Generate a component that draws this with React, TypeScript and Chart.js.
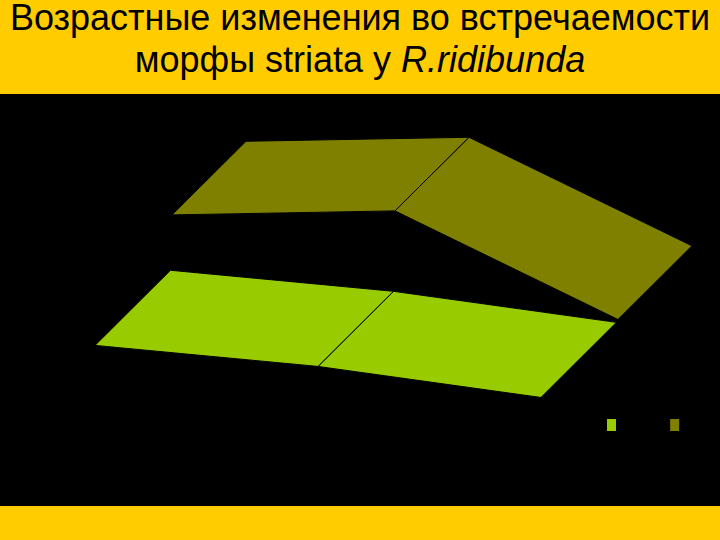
// @ts-nocheck
import { useEffect, useRef } from 'react';
import { Chart } from 'chart.js/auto';

// Age classes along the front edge of the floor
const ageSteps = [0, 1, 2];
// Frequency of the morph
const frontSeries = [18.75, 13.5, 5.75];
const backSeries = [32.2, 33.2, 6.1];

const FRONT_COLOR = '#99CC00';
const BACK_COLOR = '#808000';
const YELLOW = '#FFCC00';

// Oblique projection of the depth axis, in axis units per row
const DEPTH_X = 0.3386;
const DEPTH_Y = 18.75;

const project = (step, value, depth) => ({
	x: step + depth * DEPTH_X,
	y: value + depth * DEPTH_Y,
});

// One closed face per pair of neighbouring age classes
const ribbonFaces = (values, nearDepth, farDepth, color) =>
	ageSteps.slice(0, -1).map((step, i) => ({
		label: 'ribbon',
		data: [
			project(step, values[i], nearDepth),
			project(step + 1, values[i + 1], nearDepth),
			project(step + 1, values[i + 1], farDepth),
			project(step, values[i], farDepth),
			project(step, values[i], nearDepth),
		],
		showLine: true,
		fill: 'shape',
		backgroundColor: color,
		borderColor: '#000000',
		borderWidth: 1,
		pointRadius: 0,
		tension: 0,
	}));

// The legend captions are black on black in the original, only their width shows
const blank = (n) => '\u00A0'.repeat(n);

export default function App() {
	const canvasRef = useRef(null);

	useEffect(() => {
		const chart = new Chart(canvasRef.current, {
			type: 'scatter',
			data: {
				datasets: [
					...ribbonFaces(backSeries, 1.02, 2, BACK_COLOR),
					...ribbonFaces(frontSeries, 0, 1, FRONT_COLOR),
				],
			},
			options: {
				animation: false,
				responsive: false,
				layout: { padding: 0 },
				plugins: {
					tooltip: { enabled: false },
					title: { display: false },
					legend: {
						position: 'bottom',
						align: 'end',
						labels: {
							boxWidth: 9,
							boxHeight: 12,
							padding: 11.5,
							generateLabels: () => [
								{ text: blank(11), fillStyle: FRONT_COLOR, strokeStyle: FRONT_COLOR, lineWidth: 0 },
								{ text: blank(7), fillStyle: BACK_COLOR, strokeStyle: BACK_COLOR, lineWidth: 0 },
							],
						},
					},
				},
				scales: {
					x: { type: 'linear', display: false, min: -0.426, max: 2.803 },
					y: { type: 'linear', display: false, min: 3.25, max: 81.5 },
				},
			},
		});
		return () => chart.destroy();
	}, []);

	return (
		<div
			style={{
				position: 'absolute',
				left: 0,
				top: 0,
				width: 720,
				height: 540,
				background: YELLOW,
				fontFamily: '"Liberation Sans", Arial, sans-serif',
				color: '#000000',
				overflow: 'hidden',
			}}
		>
			<div style={{ height: 94, textAlign: 'center', whiteSpace: 'nowrap', fontSize: 36 }}>
				<div style={{ position: 'relative', top: -3, lineHeight: '42px' }}>
					Возрастные изменения во встречаемости
				</div>
				<div style={{ position: 'relative', top: -3, lineHeight: '42px' }}>
					морфы striata у <i>R.ridibunda</i>
				</div>
			</div>
			<div style={{ height: 412, background: '#000000' }}>
				<canvas ref={canvasRef} width={720} height={347} style={{ display: 'block' }} />
			</div>
		</div>
	);
}
